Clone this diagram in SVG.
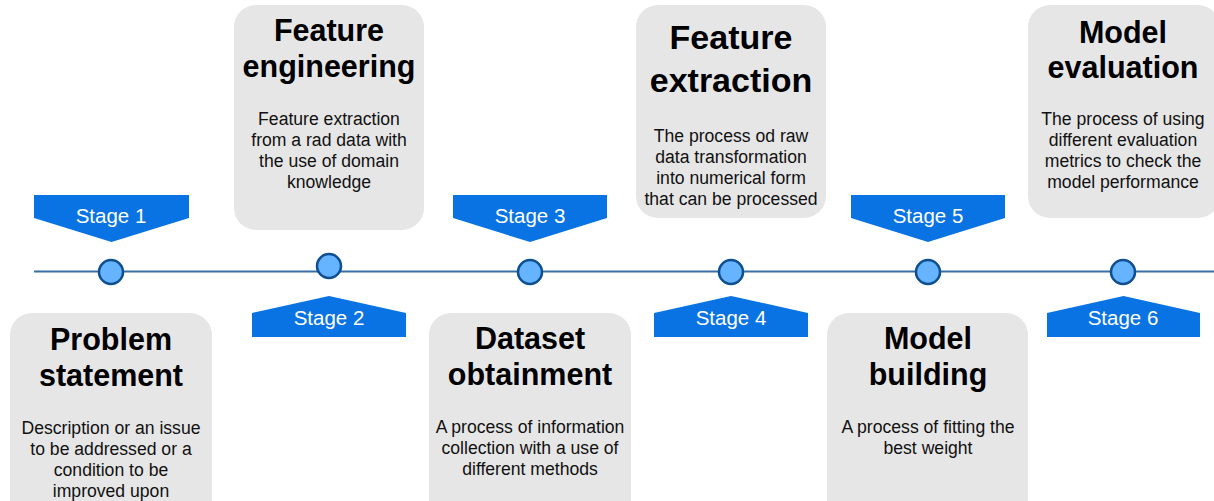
<svg xmlns="http://www.w3.org/2000/svg" width="1214" height="501" viewBox="0 0 1214 501">
<style>
.box{fill:#e6e6e6;}
.t{font-family:"Liberation Sans",Arial,sans-serif;font-weight:bold;font-size:30.5px;fill:#000;text-anchor:middle;}
.tb{font-size:34px;}
.b{font-family:"Liberation Sans",Arial,sans-serif;font-size:17.6px;fill:#111;text-anchor:middle;}
.ban{fill:#0a73e3;}
.s{font-family:"Liberation Sans",Arial,sans-serif;font-size:20.5px;fill:#fff;text-anchor:middle;}
.dot{fill:#66b3ff;stroke:#0d4f91;stroke-width:2.5;}
</style>
<rect width="1214" height="501" fill="#fff"/>
<g id="connectors">
<line x1="34" y1="271.5" x2="1214" y2="271.5" stroke="#3a6fa6" stroke-width="2"/>
</g>
<g id="box-problem">
<rect class="box" x="10" y="313" width="202" height="210" rx="22"/>
<text class="t" x="111" y="350">Problem</text>
<text class="t" x="111" y="386">statement</text>
<text class="b" x="111" y="434">Description or an issue</text>
<text class="b" x="111" y="455">to be addressed or a</text>
<text class="b" x="111" y="476">condition to be</text>
<text class="b" x="111" y="497">improved upon</text>
</g>
<g id="box-engineering">
<rect class="box" x="234" y="5" width="190" height="225" rx="22"/>
<text class="t" x="329" y="41">Feature</text>
<text class="t" x="329" y="77">engineering</text>
<text class="b" x="329" y="125">Feature extraction</text>
<text class="b" x="329" y="146">from a rad data with</text>
<text class="b" x="329" y="167">the use of domain</text>
<text class="b" x="329" y="188">knowledge</text>
</g>
<g id="box-dataset">
<rect class="box" x="429" y="313" width="202" height="210" rx="22"/>
<text class="t" x="530" y="349">Dataset</text>
<text class="t" x="530" y="385">obtainment</text>
<text class="b" x="530" y="433">A process of information</text>
<text class="b" x="530" y="454">collection with a use of</text>
<text class="b" x="530" y="475">different methods</text>
</g>
<g id="box-extraction">
<rect class="box" x="636" y="5" width="190" height="213" rx="22"/>
<text class="t tb" x="731" y="49">Feature</text>
<text class="t tb" x="731" y="92">extraction</text>
<text class="b" x="731" y="142">The process od raw</text>
<text class="b" x="731" y="163">data transformation</text>
<text class="b" x="731" y="184">into numerical form</text>
<text class="b" x="731" y="205">that can be processed</text>
</g>
<g id="box-building">
<rect class="box" x="827" y="313" width="201" height="210" rx="22"/>
<text class="t" x="928" y="349">Model</text>
<text class="t" x="928" y="385">building</text>
<text class="b" x="928" y="433">A process of fitting the</text>
<text class="b" x="928" y="454">best weight</text>
</g>
<g id="box-evaluation">
<rect class="box" x="1028" y="5" width="192" height="213" rx="22"/>
<text class="t" x="1123" y="43">Model</text>
<text class="t" x="1123" y="78">evaluation</text>
<text class="b" x="1123" y="125">The process of using</text>
<text class="b" x="1123" y="146">different evaluation</text>
<text class="b" x="1123" y="167">metrics to check the</text>
<text class="b" x="1123" y="188">model performance</text>
</g>
<g id="stage1">
<polygon class="ban" points="34,195 189,195 189,218 111.5,242 34,218"/>
<text class="s" x="111" y="223">Stage 1</text>
<circle class="dot" cx="111" cy="272" r="12"/>
</g>
<g id="stage2">
<polygon class="ban" points="252,313 329,296 406,313 406,337 252,337"/>
<text class="s" x="329" y="325">Stage 2</text>
<circle class="dot" cx="329" cy="266" r="12"/>
</g>
<g id="stage3">
<polygon class="ban" points="453,195 607,195 607,218 530,242 453,218"/>
<text class="s" x="530" y="223">Stage 3</text>
<circle class="dot" cx="530" cy="272" r="12"/>
</g>
<g id="stage4">
<polygon class="ban" points="654,313 731,296 808,313 808,337 654,337"/>
<text class="s" x="731" y="325">Stage 4</text>
<circle class="dot" cx="731" cy="272" r="12"/>
</g>
<g id="stage5">
<polygon class="ban" points="851,195 1005,195 1005,218 928,242 851,218"/>
<text class="s" x="928" y="223">Stage 5</text>
<circle class="dot" cx="928" cy="272" r="12"/>
</g>
<g id="stage6">
<polygon class="ban" points="1047,313 1123.5,296 1200,313 1200,337 1047,337"/>
<text class="s" x="1123" y="325">Stage 6</text>
<circle class="dot" cx="1123" cy="272" r="12"/>
</g>
</svg>
